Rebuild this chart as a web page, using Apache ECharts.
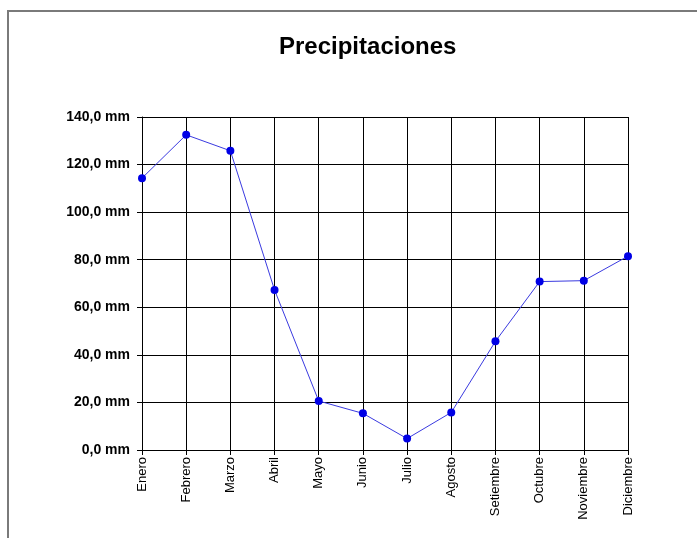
<!DOCTYPE html>
<html>
<head>
<meta charset="utf-8">
<script src="https://cdn.jsdelivr.net/npm/echarts@6/dist/echarts.min.js"></script>
<style>
  html, body { margin: 0; padding: 0; background: #fff; }
  #chart { width: 697px; height: 538px; }
</style>
</head>
<body>
<div id="chart"></div>
<script>
// datos
var meses = ["Enero", "Febrero", "Marzo", "Abril", "Mayo", "Junio", "Julio",
  "Agosto", "Setiembre", "Octubre", "Noviembre", "Diciembre"];
var precipitacion = [114.3, 132.5, 125.8, 67.3, 20.6, 15.4, 4.8, 15.8, 45.7, 70.8, 71.2, 81.5];
var yTicks = [0, 20, 40, 60, 80, 100, 120, 140];

var myChart = echarts.init(document.getElementById("chart"));
myChart.setOption({
  animation: false,
  backgroundColor: "#fff",
  title: {
    text: "Precipitaciones",
    left: 274,
    top: 30,
    textStyle: {
      fontFamily: "Liberation Sans, Arial",
      fontSize: 24,
      fontWeight: "bold",
      color: "#000"
    }
  },
  graphic: [{
    type: "rect",
    shape: { x: 8, y: 11, width: 700, height: 540 },
    style: { fill: "none", stroke: "#7a7a7a", lineWidth: 2 },
    silent: true
  }],
  grid: { left: 142, right: 69, top: 117, bottom: 88 },
  xAxis: {
    type: "category",
    boundaryGap: false,
    data: meses,
    axisLine: { lineStyle: { color: "#000", width: 1 } },
    axisTick: { show: true, length: 5, lineStyle: { color: "#000" } },
    axisLabel: {
      rotate: 90,
      interval: 0,
      margin: 7,
      color: "#000",
      fontFamily: "Liberation Sans, Arial",
      fontSize: 13
    },
    splitLine: { show: true, lineStyle: { color: "#000", width: 1 } }
  },
  yAxis: {
    type: "value",
    min: yTicks[0],
    max: yTicks[yTicks.length - 1],
    interval: 20,
    axisLine: { show: true, lineStyle: { color: "#000" } },
    axisTick: { show: true, length: 5, lineStyle: { color: "#000" } },
    axisLabel: {
      margin: 12,
      color: "#000",
      fontFamily: "Liberation Sans, Arial",
      fontSize: 14,
      fontWeight: "bold",
      formatter: function (v) {
        return v.toFixed(1).replace(".", ",") + " mm";
      }
    },
    splitLine: { show: true, lineStyle: { color: "#000", width: 1 } }
  },
  series: [{
    type: "line",
    data: precipitacion,
    symbol: "circle",
    symbolSize: 8,
    lineStyle: { color: "#3a3ae0", width: 1 },
    itemStyle: { color: "#0000e6" }
  }]
});
</script>
</body>
</html>
